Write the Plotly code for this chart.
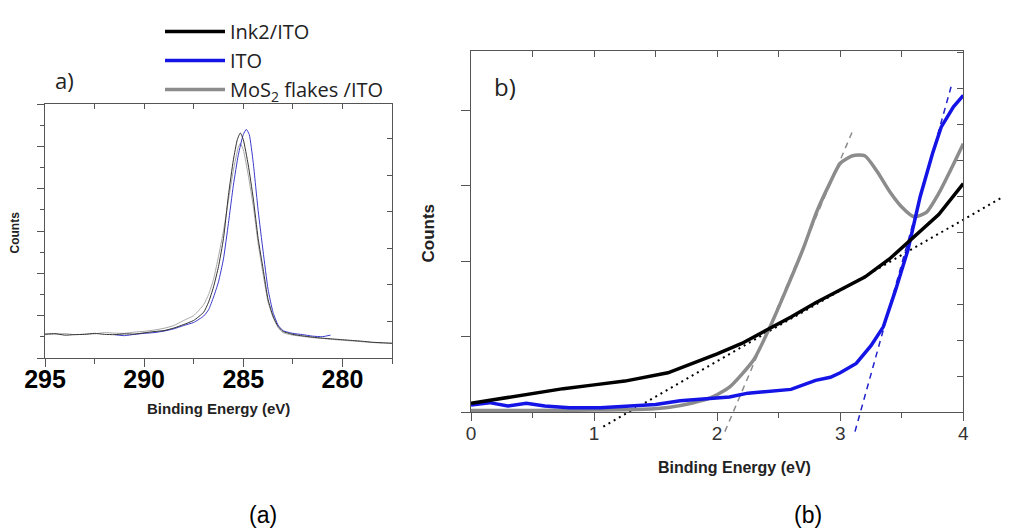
import plotly.graph_objects as go

# ---- panel a) : C1s region ----
ink_a_x = [295, 294.5, 294, 293.5, 293, 292.5, 292, 291.5, 291, 290.5, 290, 289.5, 289, 288.5, 288, 287.5,
           287, 286.75, 286.5, 286.25, 286, 285.75, 285.5, 285.3, 285.15, 285, 284.75, 284.5, 284.25, 284,
           283.75, 283.5, 283.25, 283, 282.5, 282, 281.5, 281, 280.5, 280, 279.5, 279, 278.5, 278, 277.5]
ink_a_y = [0.094, 0.096, 0.090, 0.092, 0.093, 0.097, 0.093, 0.092, 0.095, 0.094, 0.099, 0.104, 0.108, 0.118,
           0.132, 0.148, 0.18, 0.22, 0.28, 0.36, 0.47, 0.64, 0.78, 0.86, 0.886, 0.86, 0.76, 0.63, 0.47, 0.35,
           0.23, 0.165, 0.125, 0.105, 0.093, 0.087, 0.082, 0.078, 0.075, 0.072, 0.069, 0.066, 0.062, 0.060, 0.058]

ito_a_x = [291.5, 291, 290.5, 290, 289.5, 289, 288.5, 288, 287.5, 287, 286.75, 286.5, 286.25, 286, 285.75,
           285.5, 285.25, 285, 284.85, 284.7, 284.5, 284.25, 284, 283.75, 283.5, 283.25, 283, 282.5, 282,
           281.5, 281, 280.6]
ito_a_y = [0.092, 0.088, 0.093, 0.097, 0.10, 0.106, 0.115, 0.128, 0.14, 0.165, 0.19, 0.24, 0.30, 0.39, 0.53,
           0.68, 0.80, 0.88, 0.90, 0.88, 0.77, 0.58, 0.42, 0.27, 0.18, 0.13, 0.108, 0.097, 0.092, 0.086, 0.084, 0.09]

mos_a_x = [295, 294.5, 294, 293.5, 293, 292.5, 292, 291.5, 291, 290.5, 290, 289.5, 289, 288.5, 288, 287.5,
           287, 286.75, 286.5, 286.25, 286, 285.75, 285.5, 285.25, 285.15, 285, 284.75, 284.5, 284.25, 284,
           283.75, 283.5, 283.25, 283, 282.5, 282, 281.5, 281, 280.5, 280, 279.5, 279, 278.5, 278, 277.5]
mos_a_y = [0.092, 0.094, 0.096, 0.092, 0.094, 0.095, 0.100, 0.098, 0.097, 0.102, 0.105, 0.11, 0.117, 0.128,
           0.148, 0.167, 0.21, 0.25, 0.31, 0.40, 0.50, 0.62, 0.74, 0.83, 0.845, 0.82, 0.72, 0.60, 0.45, 0.33,
           0.22, 0.16, 0.12, 0.10, 0.09, 0.085, 0.08, 0.077, 0.073, 0.07, 0.067, 0.064, 0.061, 0.059, 0.058]

# ---- panel b) : valence band edge ----
ink_b_x = [0, 0.25, 0.5, 0.75, 1.0, 1.25, 1.6, 1.8, 2.0, 2.2, 2.4, 2.6, 2.8, 3.0, 3.2, 3.4, 3.6, 3.8, 4.0]
ink_b_y = [0.115, 0.18, 0.245, 0.31, 0.36, 0.41, 0.52, 0.64, 0.77, 0.91, 1.08, 1.26, 1.45, 1.62, 1.79, 2.03,
           2.33, 2.62, 3.03]

ito_b_x = [0, 0.15, 0.3, 0.45, 0.6, 0.8, 1.05, 1.25, 1.5, 1.7, 1.95, 2.1, 2.25, 2.45, 2.6, 2.8, 2.92, 3.0,
           3.13, 3.25, 3.35, 3.45, 3.55, 3.65, 3.75, 3.82, 3.92, 4.0]
ito_b_y = [0.093, 0.124, 0.08, 0.115, 0.08, 0.055, 0.057, 0.08, 0.10, 0.15, 0.18, 0.20, 0.25, 0.28, 0.30,
           0.42, 0.46, 0.52, 0.645, 0.88, 1.13, 1.62, 2.15, 2.86, 3.43, 3.78, 4.05, 4.20]

mos_b_x = [0, 0.5, 1.0, 1.4, 1.6, 1.8, 1.95, 2.1, 2.2, 2.3, 2.43, 2.56, 2.7, 2.81, 2.92, 3.0, 3.1, 3.2, 3.3,
           3.4, 3.5, 3.6, 3.7, 3.8, 3.9, 4.0]
mos_b_y = [0.02, 0.02, 0.025, 0.035, 0.06, 0.12, 0.19, 0.33, 0.5, 0.70, 1.13, 1.62, 2.17, 2.66, 3.05, 3.30,
           3.40, 3.40, 3.19, 2.93, 2.72, 2.59, 2.65, 2.90, 3.22, 3.56]

# linear fits (end points)
fit_ink_x, fit_ink_y = [1.075, 4.37], [-0.195, 2.90]
fit_ito_x, fit_ito_y = [3.12, 3.91], [-0.26, 4.37]
fit_mos_x, fit_mos_y = [2.063, 3.106], [-0.26, 3.75]

names = ["Ink2/ITO", "ITO", "MoS<sub>2</sub> flakes /ITO"]

# page has an 8px body margin, so the figure is shifted by 8px
OFF = 8
W, H = 1009 - OFF, 530 - OFF


def fx(px):
    return (px - OFF) / W


def fy(py):
    return 1 - (py - OFF) / H


A_X = [fx(45), fx(392)]
A_Y = [fy(358), fy(104)]
B_X = [fx(471), fx(963.3)]
B_Y = [fy(412), fy(51)]
A_XR = [295, 277.5]
A_YR = [0, 1]
B_XR = [0, 4]
B_YR = [0, 4.79]

AX = "#555555"
fig = go.Figure()

# full-page axes with the same scale as panel b, so fit lines are not clipped
px_x = (B_X[1] - B_X[0]) / (B_XR[1] - B_XR[0])
px_y = (B_Y[1] - B_Y[0]) / (B_YR[1] - B_YR[0])
full_xr = [B_XR[0] - B_X[0] / px_x, B_XR[1] + (1 - B_X[1]) / px_x]
full_yr = [B_YR[0] - B_Y[0] / px_y, B_YR[1] + (1 - B_Y[1]) / px_y]

for xs, ys, c, d, w in [(fit_ink_x, fit_ink_y, "black", "2px,4px", 2),
                        (fit_ito_x, fit_ito_y, "#2020cc", "6px,5px", 1.5),
                        (fit_mos_x, fit_mos_y, "#8c8c8c", "6px,5px", 1.5)]:
    fig.add_trace(go.Scatter(x=xs, y=ys, mode="lines", line=dict(color=c, width=w, dash=d),
                             xaxis="x", yaxis="y", showlegend=False))

# panel a traces (spread over the main and the top/right twin axes, same scales)
for xs, ys, c, xa, ya in [(mos_a_x, mos_a_y, "#a8a8a8", "x2", "y2"),
                          (ink_a_x, ink_a_y, "#333333", "x4", "y2"),
                          (ito_a_x, ito_a_y, "#3a3acc", "x2", "y4")]:
    fig.add_trace(go.Scatter(x=xs, y=ys, mode="lines", line=dict(color=c, width=1, shape="spline", smoothing=0.5),
                             xaxis=xa, yaxis=ya, showlegend=False))

# panel b traces (also used for legend)
fig.add_trace(go.Scatter(x=ink_b_x, y=ink_b_y, mode="lines", name=names[0],
                         line=dict(color="black", width=3.5), xaxis="x5", yaxis="y3"))
fig.add_trace(go.Scatter(x=ito_b_x, y=ito_b_y, mode="lines", name=names[1],
                         line=dict(color="#1414e6", width=3.5), xaxis="x3", yaxis="y5"))
fig.add_trace(go.Scatter(x=mos_b_x, y=mos_b_y, mode="lines", name=names[2],
                         line=dict(color="#8c8c8c", width=3.5, shape="spline", smoothing=0.6),
                         xaxis="x3", yaxis="y3"))

common = dict(showline=True, mirror=True, linecolor=AX, linewidth=1.3, showgrid=False, zeroline=False,
              tickcolor=AX, automargin=False)
over = dict(showline=False, showgrid=False, zeroline=False, tickcolor=AX, automargin=False,
            showticklabels=False, ticks="inside")

fig.update_layout(
    width=W, height=H,
    margin=dict(l=0, r=0, t=0, b=0),
    paper_bgcolor="white", plot_bgcolor="rgba(0,0,0,0)",
    xaxis=dict(domain=[0, 1], range=full_xr, anchor="y", visible=False),
    yaxis=dict(domain=[0, 1], range=full_yr, anchor="x", visible=False),
    # panel a
    xaxis2=dict(domain=A_X, range=A_XR, anchor="y2", ticks="outside", ticklen=8, tick0=295, dtick=5,
                tickfont=dict(family="Liberation Sans", size=25, color="black", weight="bold"),
                ticklabelstandoff=-9,
                minor=dict(ticks="outside", ticklen=5, dtick=2.5, tick0=295, tickcolor=AX), **common),
    yaxis2=dict(domain=A_Y, range=A_YR, anchor="x2", ticks="outside", ticklen=7, dtick=1 / 6,
                showticklabels=False, minor=dict(ticks="outside", ticklen=4, dtick=1 / 12, tickcolor=AX),
                **common),
    xaxis4=dict(overlaying="x2", side="top", range=A_XR, anchor="y2", ticklen=5, tick0=295, dtick=2.5, **over),
    yaxis4=dict(overlaying="y2", side="right", range=A_YR, anchor="x2", ticklen=5, dtick=1 / 6.94, **over),
    # panel b
    xaxis3=dict(domain=B_X, range=B_XR, anchor="y3", ticks="outside", ticklen=8, dtick=1,
                tickfont=dict(family="Liberation Sans", size=19, color="#333333"), ticklabelstandoff=-4,
                minor=dict(ticks="outside", ticklen=5, dtick=0.5, tickcolor=AX), **common),
    yaxis3=dict(domain=B_Y, range=B_YR, anchor="x3", ticks="outside", ticklen=9, dtick=1,
                showticklabels=False, **common),
    xaxis5=dict(overlaying="x3", side="top", range=B_XR, anchor="y3", ticklen=6, dtick=0.5, **over),
    yaxis5=dict(overlaying="y3", side="right", range=B_YR, anchor="x3", ticklen=6, dtick=B_YR[1] / 10.03,
                **over),
    legend=dict(x=fx(160), y=fy(12), xanchor="left", yanchor="top", bgcolor="rgba(0,0,0,0)",
                font=dict(family="Open Sans", size=20, color="#222222"), tracegroupgap=0, itemwidth=60),
)


def txt(x, y, s, size, family="Liberation Sans", bold=False, angle=0, color="#222222"):
    fig.add_annotation(x=fx(x), y=fy(y), xref="paper", yref="paper", text=s, showarrow=False,
                       xanchor="center", yanchor="middle", textangle=angle,
                       font=dict(family=family, size=size, color=color, weight="bold" if bold else "normal"))


txt(64, 80, "a)", 22, family="Open Sans")
txt(505, 87, "b)", 24, family="Open Sans")
txt(14.5, 233, "Counts", 12, bold=True, angle=-90)
txt(218, 408, "Binding Energy (eV)", 15, bold=True)
txt(427.5, 233, "Counts", 17, bold=True, angle=-90)
txt(734, 467, "Binding Energy (eV)", 16, bold=True)
txt(263, 515, "(a)", 23, color="black")
txt(808, 515, "(b)", 23, color="black")

fig.write_html("out.html")
